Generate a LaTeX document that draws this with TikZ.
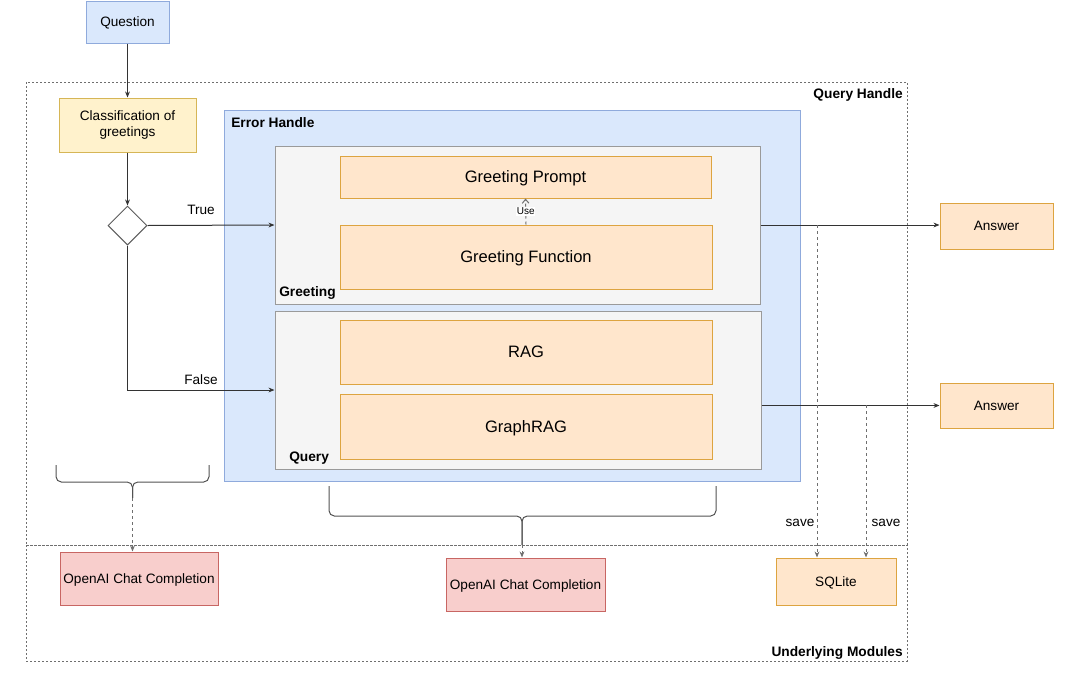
\documentclass[tikz,border=0pt]{standalone}
\usepackage{fontspec}
\setmainfont{Liberation Sans}
\usetikzlibrary{arrows.meta,shapes.geometric,calc}
\definecolor{bluefill}{HTML}{DAE8FC}
\definecolor{blueline}{HTML}{8FAADC}
\definecolor{yelfill}{HTML}{FFF2CC}
\definecolor{yelline}{HTML}{D6B656}
\definecolor{orfill}{HTML}{FFE6CC}
\definecolor{orline}{HTML}{DDA440}
\definecolor{redfill}{HTML}{F8CECC}
\definecolor{redline}{HTML}{C86663}
\definecolor{grayfill}{HTML}{F5F5F5}
\definecolor{grayline}{HTML}{9A9A9A}
\definecolor{conn}{HTML}{333333}
\definecolor{dotline}{HTML}{6F6F6F}
\newcommand\mynormal{\fontsize{10.2}{12.2}\selectfont}
\newcommand\mybig{\fontsize{12.4}{14.5}\selectfont}
\newcommand\mybold{\fontsize{10.3}{12.3}\selectfont\bfseries}
\newcommand\mysmall{\fontsize{7.5}{9}\selectfont}
\begin{document}
\begin{tikzpicture}[x=0.75pt,y=-0.75pt,
  box/.style={draw, line width=0.75pt, inner sep=1pt, align=center, font=\mynormal},
  onebox/.style={box, text depth=0pt},
  bluebox/.style={onebox, fill=bluefill, draw=blueline},
  yelbox/.style={box, fill=yelfill, draw=yelline},
  orbox/.style={onebox, fill=orfill, draw=orline},
  redbox/.style={onebox, fill=redfill, draw=redline},
  graybox/.style={box, fill=grayfill, draw=grayline},
  bigtext/.style={font=\mybig},
  grouplabel/.style={font=\mybold, inner sep=0pt},
  dotbox/.style={draw=dotline, line width=0.75pt, dash pattern=on 1.5pt off 1.5pt},
  arr/.style={draw=conn, line width=0.75pt, -{Stealth[length=4.5pt,width=3.6pt]}},
  darr/.style={draw=dotline, line width=0.75pt, dash pattern=on 2.25pt off 2.25pt, -{Stealth[length=4.5pt,width=3.6pt]}},
  bracestyle/.style={draw=conn!85, line width=0.75pt, rounded corners=4pt},
  lbl/.style={font=\mynormal, inner sep=0pt, text depth=0pt}
]
\useasboundingbox (0,0) rectangle (1081,675);

% dotted group frames
\draw[dotbox] (26,82) rectangle (907,545);
\draw[dotbox] (26,545) rectangle (907,661);
\node[grouplabel, anchor=east] (qhlabel) at (903,95) {Query Handle};
\node[grouplabel, anchor=east] (umlabel) at (903,653) {Underlying Modules};

% error handle
\node[bluebox, minimum width=432pt, minimum height=278.25pt] (err) at (512,295.5) {};
\node[grouplabel, anchor=west] (errlabel) at (231,123) {Error Handle};

% greeting / query containers
\node[graybox, minimum width=363.75pt, minimum height=118.5pt] (greet) at (517.5,225) {};
\node[grouplabel, anchor=west] (greetlabel) at (279,293) {Greeting};
\node[graybox, minimum width=364.5pt, minimum height=118.5pt] (query) at (518,390) {};
\node[grouplabel, anchor=west] (querylabel) at (289,458) {Query};

% inner boxes
\node[orbox, bigtext, minimum width=278.25pt, minimum height=31.5pt] (gprompt) at (525.5,177) {Greeting Prompt};
\node[orbox, bigtext, minimum width=279pt, minimum height=48pt] (gfunc) at (526,257) {Greeting Function};
\node[orbox, bigtext, minimum width=279pt, minimum height=48pt] (rag) at (526,352) {RAG};
\node[orbox, bigtext, minimum width=279pt, minimum height=48.75pt] (grag) at (526,426.5) {GraphRAG};

% left flow
\node[bluebox, minimum width=62.25pt, minimum height=31.5pt] (question) at (127.5,22) {Question};
\node[yelbox, minimum width=102.75pt, minimum height=40.5pt] (classif) at (127.5,125) {Classification of\\greetings};
\node[draw=conn!80, line width=0.75pt, diamond, minimum width=29.25pt, minimum height=29.25pt, inner sep=0pt] (dec) at (127.5,225.5) {};

% answers and modules
\node[orbox, minimum width=84.75pt, minimum height=34.5pt] (ans1) at (996.5,226) {Answer};
\node[orbox, minimum width=84.75pt, minimum height=33.75pt] (ans2) at (996.5,405.5) {Answer};
\node[orbox, minimum width=90pt, minimum height=35.25pt] (sql) at (836,581.5) {SQLite};
\node[redbox, minimum width=118.5pt, minimum height=39.75pt] (oa1) at (139,578.5) {OpenAI Chat Completion};
\node[redbox, minimum width=119.25pt, minimum height=39.75pt] (oa2) at (525.5,584.5) {OpenAI Chat Completion};

% connectors
\draw[arr] (question) -- (classif);
\draw[arr] (classif) -- (dec);
\draw[arr] (dec.east) -- (greet.west);
\node[lbl] (truelbl) at (201,210) {True};
\draw[arr] (dec.south) |- (query.west);
\node[lbl] (falselbl) at (201,380) {False};

\draw[draw=dotline, line width=0.75pt, dash pattern=on 2.25pt off 2.25pt, -{Straight Barb[length=3pt,width=5pt]}] (gfunc.north) -- (gprompt.south)
  node[midway, fill=white, inner sep=0.6pt, font=\mysmall] (uselbl) {Use};

\draw[arr] (greet.east) -- (greet.east -| ans1.west);
\draw[arr] (query.east |- ans2.west) -- (ans2.west);

\coordinate (s1) at (817,225);
\coordinate (s2) at (866,405);
\draw[darr] (s1) -- (s1 |- sql.north);
\draw[darr] (s2) -- (s2 |- sql.north);
\node[lbl] (save1) at (800,523) {save};
\node[lbl] (save2) at (886,523) {save};

% braces
\coordinate (b1tip) at (132.5,498);
\draw[bracestyle] (56,465) -- (56,482) -- (132.5,482) -- (b1tip);
\draw[bracestyle] (209,465) -- (209,482) -- (132.5,482) -- (b1tip);
\coordinate (b2tip) at (522,545);
\draw[bracestyle] (329,486) -- (329,516) -- (522,516) -- (b2tip);
\draw[bracestyle] (716,486) -- (716,516) -- (522,516) -- (b2tip);
\draw[darr] (b1tip) -- (b1tip |- oa1.north);
\draw[darr] (b2tip) -- (b2tip |- oa2.north);
\end{tikzpicture}
\end{document}
